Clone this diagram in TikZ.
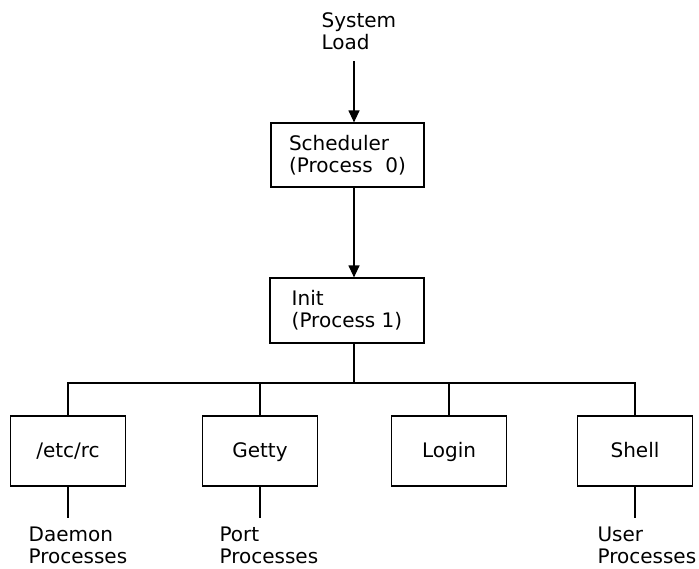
\documentclass[tikz,border=0pt]{standalone}
\usepackage{fontspec}
\setmainfont{DejaVu Sans}
\usetikzlibrary{arrows.meta}

\begin{document}
\begin{tikzpicture}[x=1pt,y=-1pt,line width=1.2pt,
  font=\fontsize{20}{22}\selectfont,
  box/.style={draw,align=left,minimum width=115pt,minimum height=70pt,inner sep=0pt},
  kid/.style={box,text height=15pt,text depth=3pt},
  note/.style={anchor=north west,align=left,inner sep=0pt},
  >={Triangle[length=12pt,width=11pt]}]
  \useasboundingbox (0,0) rectangle (699,568);
  % start up chain
  \node[note] (sysload) at (321,12) {System\\Load};
  \coordinate (feed) at (354,61);
  \node[box,minimum width=153pt,minimum height=64pt] (sched) at (347.5,155) {Scheduler\\(Process\ \ 0)};
  \node[box,minimum width=154pt,minimum height=65pt] (init) at (347,310.5) {Init\\(Process 1)};
  \draw[->] (feed) -- (feed |- sched.north);
  \draw[->] (sched.south -| feed) -- (init.north -| feed);
  % children of init
  \node[kid] (rc) at (68,451) {/etc/rc};
  \node[kid] (getty) at (260,451) {Getty};
  \node[kid] (login) at (449,451) {Login};
  \node[kid] (shell) at (635,451) {Shell};
  \coordinate (bus) at (354,383);
  \draw (init.south -| feed) -- (bus);
  \draw (rc.north) |- (bus) -| (shell.north);
  \draw (getty.north) -- (getty.north |- bus);
  \draw (login.north) -- (login.north |- bus);
  % what they start
  \node[note] (daemon) at (28,526) {Daemon\\Processes};
  \node[note] (port) at (219,526) {Port\\Processes};
  \node[note] (user) at (597,526) {User\\Processes};
  \draw (rc.south) -- ([yshift=8pt]rc.south |- daemon.north);
  \draw (getty.south) -- ([yshift=8pt]getty.south |- port.north);
  \draw (shell.south) -- ([yshift=8pt]shell.south |- user.north);
\end{tikzpicture}
\end{document}
